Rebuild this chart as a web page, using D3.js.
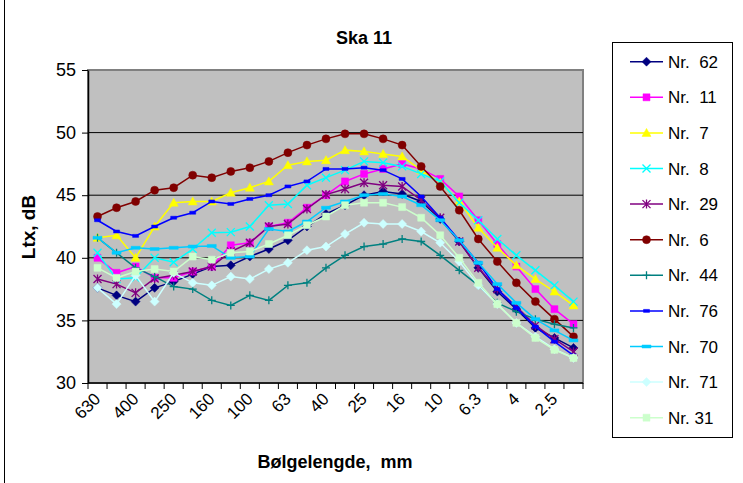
<!DOCTYPE html>
<html>
<head>
<meta charset="utf-8">
<script src="https://cdn.jsdelivr.net/npm/d3@7"></script>
<style>
  body { margin: 0; background: #fff; }
  text { font-family: Arial, "Liberation Sans", sans-serif; fill: #000; }
</style>
</head>
<body>
<svg id="chart" width="743" height="483"></svg>
<script>

// Categories (wavelength, mm)
var wavelengths = ["630","500","400","315","250","200","160","125","100","80","63","50","40",
                   "31.5","25","20","16","12.5","10","8","6.3","5","4","3.15","2.5","2"];

// Y ticks
var yTicks = [30, 35, 40, 45, 50, 55];

// Series values (Ltx, dB)
var nr62 = [37.6,37.0,36.5,37.6,38.1,38.7,39.3,39.4,40.1,40.7,41.4,42.5,43.5,44.2,45.0,45.3,45.1,44.5,43.1,41.3,39.2,37.3,35.9,34.4,33.6,32.8];
var nr11 = [40.0,38.8,39.3,38.4,38.4,38.9,39.3,41.0,41.2,42.5,42.8,44.0,45.0,46.1,46.7,47.1,47.5,47.1,46.3,44.9,43.0,41.1,39.3,37.5,35.9,34.7];
var nr7  = [41.6,41.8,40.0,42.5,44.4,44.5,44.5,45.2,45.6,46.1,47.4,47.7,47.8,48.6,48.5,48.3,48.1,47.0,46.0,44.5,42.4,40.8,39.4,38.3,37.3,36.2];
var nr8  = [40.4,38.3,38.4,40.0,39.65,40.7,42.0,42.05,42.5,44.2,44.3,45.8,46.4,47.0,47.7,47.6,47.3,46.7,46.1,44.4,43.0,41.5,40.2,39.0,37.8,36.5];
var nr29 = [38.3,37.9,37.2,38.35,38.6,38.9,39.3,40.5,41.2,42.5,42.7,43.9,45.05,45.5,46.0,45.8,45.7,44.6,43.2,41.3,39.2,37.5,36.1,34.6,33.5,32.5];
var nr6  = [43.3,44.0,44.5,45.4,45.6,46.6,46.4,46.9,47.2,47.7,48.4,49.0,49.5,49.9,49.9,49.5,49.0,47.3,45.7,43.8,41.5,39.7,38.0,36.5,35.1,33.7];
var nr44 = [41.6,40.4,39.2,38.5,37.7,37.5,36.6,36.2,37.0,36.6,37.8,38.0,39.2,40.2,40.9,41.1,41.5,41.3,40.2,39.0,37.8,36.4,35.7,35.1,34.7,34.4];
var nr76 = [43.0,42.1,41.75,42.5,43.2,43.6,44.5,44.3,44.7,45.0,45.7,46.1,47.1,47.1,47.2,47.0,46.3,44.9,43.2,41.4,39.6,37.5,36.0,34.5,33.3,32.2];
var nr70 = [41.6,40.4,40.8,40.7,40.8,40.9,40.95,40.0,40.1,42.3,42.1,42.9,44.0,44.5,45.0,45.1,44.9,44.2,43.0,41.4,39.6,37.9,36.4,35.1,34.2,33.4];
var nr71 = [37.6,36.3,38.6,36.5,38.8,38.0,37.8,38.5,38.3,39.1,39.6,40.6,40.9,41.9,42.8,42.7,42.7,42.1,41.2,39.7,37.8,36.3,34.8,33.7,32.7,32.0];
var nr31 = [39.2,38.4,38.9,39.1,38.9,40.1,39.85,40.4,40.5,41.1,41.8,42.6,43.3,44.2,44.4,44.4,44.05,43.2,41.8,40.0,38.0,36.3,34.8,33.6,32.65,32.0];

var seriesNames = ["Nr.  62","Nr.  11","Nr.  7","Nr.  8","Nr.  29","Nr.  6","Nr.  44","Nr.  76","Nr.  70","Nr.  71","Nr. 31"];
var seriesValues = [nr62, nr11, nr7, nr8, nr29, nr6, nr44, nr76, nr70, nr71, nr31];
var seriesColors = ["#000080","#FF00FF","#FFFF00","#00FFFF","#800080","#800000","#008080","#0000FF","#00CCFF","#CCFFFF","#CCFFCC"];
var seriesMarkers = ["diamond","square","triangle","x","star","circle","plus","dash","wideDash","diamond","square"];

// Dimensions
var plot = {left: 88, top: 70, right: 583, bottom: 383};

var svg = d3.select("#chart");

// Chart area border (only the left edge shows in the picture)
svg.append("line")
    .attr("x1", 4.5).attr("x2", 4.5)
    .attr("y1", 0).attr("y2", 483)
    .attr("stroke", "#000")
    .attr("stroke-width", 1);

// Scales
var x = d3.scaleBand().domain(wavelengths).range([plot.left, plot.right]).padding(0);
var y = d3.scaleLinear().domain([30, 55]).range([plot.bottom, plot.top]);

// Plot area background
svg.append("rect")
    .attr("x", plot.left).attr("y", plot.top)
    .attr("width", plot.right - plot.left).attr("height", plot.bottom - plot.top)
    .attr("fill", "#C0C0C0")
    .attr("stroke", "#808080")
    .attr("stroke-width", 2);

// Gridlines
svg.append("g")
  .selectAll("line")
  .data(yTicks.slice(1, -1))
  .enter().append("line")
    .attr("x1", plot.left).attr("x2", plot.right)
    .attr("y1", function(d) { return y(d); })
    .attr("y2", function(d) { return y(d); })
    .attr("stroke", "#000")
    .attr("stroke-width", 1);

// Y axis
var yAxis = svg.append("g")
    .attr("transform", "translate(" + plot.left + ",0)")
    .call(d3.axisLeft(y).tickValues(yTicks).tickSize(6).tickSizeOuter(0).tickPadding(6));
yAxis.select(".domain").attr("stroke", "#000").attr("stroke-width", 1.5);
yAxis.selectAll(".tick line").attr("stroke", "#000");
yAxis.selectAll("text").style("font-size", "18px").attr("fill", "#000");

// X axis: tick marks at category boundaries
var xAxis = svg.append("g")
    .attr("transform", "translate(0," + plot.bottom + ")");
xAxis.append("line")
    .attr("x1", plot.left).attr("x2", plot.right)
    .attr("stroke", "#000").attr("stroke-width", 1.5);
xAxis.selectAll(".xtick")
    .data(wavelengths.concat(["end"]))
    .enter().append("line")
    .attr("class", "xtick")
    .attr("x1", function(d) { return d === "end" ? plot.right : x(d); })
    .attr("x2", function(d) { return d === "end" ? plot.right : x(d); })
    .attr("y1", 0).attr("y2", 6)
    .attr("stroke", "#000");

// X tick labels (every other category), rotated
xAxis.selectAll(".xlabel")
    .data(wavelengths.filter(function(d, i) { return i % 2 === 0; }))
    .enter().append("text")
    .attr("class", "xlabel")
    .attr("transform", function(d) {
        return "translate(" + (x(d) + x.bandwidth() / 2 + 4) + ",17) rotate(-45)";
    })
    .attr("text-anchor", "end")
    .style("font-size", "17px")
    .text(function(d) { return d; });

// Marker shapes
function markerPath(type) {
    switch (type) {
        case "diamond":  return "M0,-4.5L4.5,0L0,4.5L-4.5,0Z";
        case "square":   return "M-3.5,-3.5H3.5V3.5H-3.5Z";
        case "triangle": return "M0,-4.5L4.5,3.5H-4.5Z";
        case "circle":   return "M-4,0A4,4 0 1,0 4,0A4,4 0 1,0 -4,0Z";
        case "dash":     return "M-3,-1.5H3V1.5H-3Z";
        case "wideDash": return "M-4.5,-1.5H4.5V1.5H-4.5Z";
        case "x":        return "M-4,-4L4,4M4,-4L-4,4";
        case "plus":     return "M-4,0H4M0,-4V4";
        case "star":     return "M-4,-4L4,4M4,-4L-4,4M0,-4.5V4.5";
    }
}
function isStroked(type) { return type === "x" || type === "plus" || type === "star"; }

var line = d3.line()
    .x(function(d, i) { return x(wavelengths[i]) + x.bandwidth() / 2; })
    .y(function(d) { return y(d); });

// Draw each series
seriesValues.forEach(function(vals, s) {
    var g = svg.append("g");
    g.append("path")
        .datum(vals)
        .attr("d", line)
        .attr("fill", "none")
        .attr("stroke", seriesColors[s])
        .attr("stroke-width", 1.5);
    g.selectAll("path.mk")
        .data(vals)
        .enter().append("path")
        .attr("class", "mk")
        .attr("transform", function(d, i) {
            return "translate(" + (x(wavelengths[i]) + x.bandwidth() / 2) + "," + y(d) + ")";
        })
        .attr("d", markerPath(seriesMarkers[s]))
        .attr("fill", isStroked(seriesMarkers[s]) ? "none" : seriesColors[s])
        .attr("stroke", seriesColors[s])
        .attr("stroke-width", isStroked(seriesMarkers[s]) ? 1.3 : 0.5);
});

// Title
svg.append("text")
    .attr("x", 364).attr("y", 44)
    .attr("text-anchor", "middle")
    .style("font-size", "18px").style("font-weight", "bold")
    .text("Ska 11");

// Axis titles
svg.append("text")
    .attr("transform", "translate(35,227) rotate(-90)")
    .attr("text-anchor", "middle")
    .style("font-size", "19px").style("font-weight", "bold")
    .text("Ltx,  dB");

svg.append("text")
    .attr("x", 335).attr("y", 468)
    .attr("text-anchor", "middle")
    .style("font-size", "18px").style("font-weight", "bold")
    .style("white-space", "pre")
    .text("Bølgelengde,  mm");

// Legend
var legend = svg.append("g");
legend.append("rect")
    .attr("x", 612.5).attr("y", 42.5)
    .attr("width", 120).attr("height", 395)
    .attr("fill", "#fff")
    .attr("stroke", "#000");

var items = legend.selectAll(".item")
    .data(seriesNames)
    .enter().append("g")
    .attr("class", "item")
    .attr("transform", function(d, i) { return "translate(0," + (61.7 + i * 35.6) + ")"; });

items.append("line")
    .attr("x1", 630).attr("x2", 663)
    .attr("stroke", function(d, i) { return seriesColors[i]; })
    .attr("stroke-width", 1.5);
items.append("path")
    .attr("transform", "translate(646.5,0)")
    .attr("d", function(d, i) { return markerPath(seriesMarkers[i]); })
    .attr("fill", function(d, i) { return isStroked(seriesMarkers[i]) ? "none" : seriesColors[i]; })
    .attr("stroke", function(d, i) { return seriesColors[i]; })
    .attr("stroke-width", function(d, i) { return isStroked(seriesMarkers[i]) ? 1.3 : 0.5; });
items.append("text")
    .attr("x", 668).attr("y", 6)
    .style("font-size", "17px")
    .style("white-space", "pre")
    .text(function(d) { return d; });

</script>
</body>
</html>
